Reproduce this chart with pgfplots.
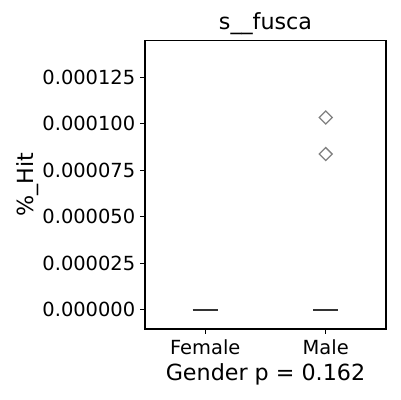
\documentclass[border=0pt]{standalone}
\usepackage{pgfplots}
\pgfplotsset{compat=1.18}
\usepackage{fontspec}
\setmainfont{DejaVu Sans}
\begin{document}
\begin{tikzpicture}
% y values in units of 1e-6
\begin{axis}[
  scale only axis,
  width=173.5pt, height=208pt,
  xmin=-0.5, xmax=1.5,
  ymin=-10.4, ymax=145,
  xtick={0,1}, xticklabels={Female,Male},
  ytick={0,25,50,75,100,125},
  yticklabels={0.000000,0.000025,0.000050,0.000075,0.000100,0.000125},
  tick label style={font=\fontsize{14}{16}\selectfont},
  xticklabel style={yshift=-1pt},
  tick align=outside, major tick length=3.5pt,
  major tick style={black, line width=0.8pt},
  xtick pos=bottom, ytick pos=left,
  axis line style={black, line width=0.8pt},
  title={s\_\_fusca},
  title style={font=\fontsize{16}{18}\selectfont, yshift=-6pt},
  xlabel={Gender p = 0.162},
  ylabel={\%\_Hit},
  label style={font=\fontsize{16}{18}\selectfont},
  xlabel style={yshift=1pt},
  ylabel style={yshift=-4pt},
]
% Female: all quartiles/whiskers at 0 -> collapsed box
\addplot[black!80, line width=1.3pt, mark=none] coordinates {(-0.105,0) (0.105,0)};
% Male: collapsed box at 0
\addplot[black!80, line width=1.3pt, mark=none] coordinates {(0.895,0) (1.105,0)};
% Male outliers
\addplot[only marks, mark=square, mark size=3.3pt,
  mark options={draw=gray, fill=white, line width=0.9pt, rotate=45}]
  coordinates {(1,103.4) (1,83.7)};
\end{axis}
\pgfresetboundingbox
\useasboundingbox ([xshift=-104.4pt,yshift=-51.1pt]current axis.south west) rectangle ++(288pt,288pt);
\end{tikzpicture}
\end{document}
